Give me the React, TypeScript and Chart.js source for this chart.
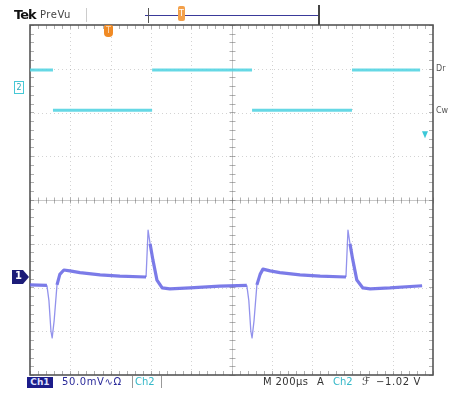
import React, { useEffect, useRef } from "react";
import { Chart, registerables } from "chart.js";

Chart.register(...registerables);

// Time axis in divisions (M 200µs/div), vertical in divisions
const ch1X = [0, 0.42, 0.47, 0.52, 0.55, 0.6, 0.67, 0.74, 0.84, 0.99, 1.24, 1.74, 2.23, 2.88, 2.93, 2.98, 3.05, 3.15, 3.28, 3.47, 3.97, 4.71, 5.38,
  5.43, 5.48, 5.51, 5.56, 5.63, 5.71, 5.78, 5.96, 6.2, 6.7, 7.2, 7.84, 7.89, 7.94, 8.01, 8.11, 8.26, 8.44, 8.93, 9.73];
const ch1Y = [-1.94, -1.95, -2.3, -3.0, -3.15, -2.75, -1.94, -1.7, -1.6, -1.62, -1.66, -1.71, -1.74, -1.76, -0.69, -1.0, -1.37, -1.83, -2.01, -2.03, -2.01, -1.97, -1.95,
  -2.3, -3.0, -3.15, -2.75, -1.94, -1.7, -1.58, -1.62, -1.66, -1.71, -1.74, -1.76, -0.69, -1.0, -1.37, -1.83, -2.01, -2.03, -2.01, -1.96];

const ch2Start = [0.0, 0.57, 3.03, 5.51, 7.99];
const ch2End = [0.57, 3.03, 5.51, 7.99, 9.68];
const ch2Level = [2.97, 2.05, 2.97, 2.05, 2.97];

const xDivs = 10;
const yDivs = 8;

const graticule = {
  id: "graticule",
  beforeDatasetsDraw(chart: any) {
    const { ctx, chartArea } = chart;
    const { left, right, top, bottom } = chartArea;
    const xs = chart.scales.x;
    const ys = chart.scales.y;
    ctx.save();
    ctx.strokeStyle = "rgba(110,110,110,0.3)";
    ctx.lineWidth = 1;
    ctx.setLineDash([1, 3]);
    for (let i = 1; i < xDivs; i++) {
      if (i === xDivs / 2) continue;
      const px = Math.round(xs.getPixelForValue(i)) + 0.5;
      ctx.beginPath(); ctx.moveTo(px, top); ctx.lineTo(px, bottom); ctx.stroke();
    }
    for (let j = -yDivs / 2 + 1; j < yDivs / 2; j++) {
      if (j === 0) continue;
      const py = Math.round(ys.getPixelForValue(j)) + 0.5;
      ctx.beginPath(); ctx.moveTo(left, py); ctx.lineTo(right, py); ctx.stroke();
    }
    ctx.setLineDash([]);
    const cx = Math.round(xs.getPixelForValue(xDivs / 2)) + 0.5;
    const cy = Math.round(ys.getPixelForValue(0)) + 0.5;
    ctx.strokeStyle = "rgba(120,120,120,0.4)";
    ctx.beginPath(); ctx.moveTo(cx, top); ctx.lineTo(cx, bottom); ctx.stroke();
    ctx.beginPath(); ctx.moveTo(left, cy); ctx.lineTo(right, cy); ctx.stroke();
    ctx.strokeStyle = "rgba(100,100,100,0.5)";
    for (let v = 0; v <= xDivs + 0.001; v += 0.2) {
      const px = Math.round(xs.getPixelForValue(v)) + 0.5;
      ctx.beginPath(); ctx.moveTo(px, cy - 3); ctx.lineTo(px, cy + 3); ctx.stroke();
      ctx.beginPath(); ctx.moveTo(px, top); ctx.lineTo(px, top + 4); ctx.stroke();
      ctx.beginPath(); ctx.moveTo(px, bottom); ctx.lineTo(px, bottom - 4); ctx.stroke();
    }
    for (let v = -yDivs / 2; v <= yDivs / 2 + 0.001; v += 0.2) {
      const py = Math.round(ys.getPixelForValue(v)) + 0.5;
      ctx.beginPath(); ctx.moveTo(cx - 3, py); ctx.lineTo(cx + 3, py); ctx.stroke();
      ctx.beginPath(); ctx.moveTo(left, py); ctx.lineTo(left + 4, py); ctx.stroke();
      ctx.beginPath(); ctx.moveTo(right, py); ctx.lineTo(right - 4, py); ctx.stroke();
    }
    ctx.strokeStyle = "rgb(85,85,85)";
    ctx.lineWidth = 1.6;
    ctx.strokeRect(left, top, right - left, bottom - top);
    ctx.restore();
  },
  afterDatasetsDraw(chart: any) {
    const { ctx, chartArea } = chart;
    const ys = chart.scales.y;
    ctx.save();
    const ty = ys.getPixelForValue(1.48);
    const tx = chartArea.right - 8;
    ctx.fillStyle = "#3cc8d8";
    ctx.beginPath();
    ctx.moveTo(tx - 3, ty - 4);
    ctx.lineTo(tx + 3, ty - 4);
    ctx.lineTo(tx, ty + 3);
    ctx.closePath();
    ctx.fill();
    const my = ys.getPixelForValue(-1.76);
    ctx.fillStyle = "#1c1c78";
    ctx.beginPath();
    ctx.moveTo(12, my - 7);
    ctx.lineTo(23, my - 7);
    ctx.lineTo(29, my);
    ctx.lineTo(23, my + 7);
    ctx.lineTo(12, my + 7);
    ctx.closePath();
    ctx.fill();
    ctx.restore();
  },
};

function buildCh1() {
  return ch1X.map((x, i) => ({ x, y: ch1Y[i] }));
}

function buildCh2() {
  const pts: any[] = [];
  ch2Start.forEach((s, i) => {
    pts.push({ x: s, y: ch2Level[i] });
    pts.push({ x: ch2End[i], y: ch2Level[i] });
    pts.push({ x: ch2End[i], y: null });
  });
  return pts;
}

const steep = (c: any) => {
  const dx = Math.abs(c.p1.x - c.p0.x);
  const dy = Math.abs(c.p1.y - c.p0.y);
  const lowest = Math.min(ch1Y[c.p0DataIndex], ch1Y[c.p1DataIndex]);
  return dy > 6.5 * dx || lowest < -2.2;
};

export default function App() {
  const ref = useRef<HTMLCanvasElement | null>(null);
  useEffect(() => {
    if (!ref.current) return;
    const chart = new Chart(ref.current, {
      type: "line",
      data: {
        datasets: [
          {
            label: "Ch2",
            data: buildCh2(),
            borderColor: "rgba(85,212,226,0.9)",
            borderWidth: 3,
            pointRadius: 0,
            spanGaps: false,
            tension: 0,
          },
          {
            label: "Ch1",
            data: buildCh1(),
            borderColor: "rgba(100,100,228,0.85)",
            borderWidth: 3.2,
            pointRadius: 0,
            tension: 0,
            borderJoinStyle: "round",
            segment: {
              borderWidth: (c: any) => (steep(c) ? 1.3 : 3.2),
              borderColor: (c: any) => (steep(c) ? "rgba(100,100,228,0.7)" : "rgba(100,100,228,0.85)"),
            },
          } as any,
        ],
      },
      options: {
        animation: false,
        responsive: true,
        maintainAspectRatio: false,
        layout: { padding: { left: 30, right: 18, top: 25, bottom: 24 } },
        scales: {
          x: { type: "linear", min: 0, max: xDivs, display: false },
          y: { type: "linear", min: -yDivs / 2, max: yDivs / 2, display: false },
        },
        plugins: { legend: { display: false }, tooltip: { enabled: false }, title: { display: false } },
      },
      plugins: [graticule],
    });
    return () => chart.destroy();
  }, []);

  const abs = (s: React.CSSProperties): React.CSSProperties => ({ position: "absolute", whiteSpace: "nowrap", ...s });
  const font = "'DejaVu Sans', sans-serif";

  return (
    <div style={{ position: "relative", width: 451, height: 399, background: "#fff", fontFamily: font }}>
      <style>{`body{margin:0}`}</style>
      <canvas ref={ref} width={451} height={399} />
      {/* header */}
      <span style={abs({ left: 14, top: 7, fontSize: 13, fontWeight: "bold", color: "#111", letterSpacing: -1 })}>Tek</span>
      <span style={abs({ left: 40, top: 9, fontSize: 10, color: "#444", letterSpacing: 0.5 })}>PreVu</span>
      <div style={abs({ left: 86, top: 8, width: 1, height: 14, background: "#ccc" })} />
      <div style={abs({ left: 145, top: 15, width: 173, height: 1, background: "#3a3a9a" })} />
      <div style={abs({ left: 148, top: 8, width: 1, height: 15, background: "#555" })} />
      <div style={abs({ left: 318, top: 5, width: 2, height: 20, background: "#444" })} />
      <div style={abs({ left: 178, top: 6, width: 7, height: 15, background: "#f3a04a", borderRadius: 2, color: "#fff", fontSize: 8, lineHeight: "15px", textAlign: "center" })}>T</div>
      <div style={abs({ left: 104, top: 25, width: 9, height: 12, background: "#f08a24", borderRadius: "2px 2px 4px 4px", color: "#fde0c0", fontSize: 8, lineHeight: "12px", textAlign: "center" })}>T</div>
      {/* channel markers */}
      <div style={abs({ left: 14, top: 81, width: 8, height: 11, border: "1px solid #46c8d6", color: "#2aa8b8", fontSize: 8, lineHeight: "11px", textAlign: "center" })}>2</div>
      <span style={abs({ left: 13, top: 269, width: 11, fontSize: 10, fontWeight: "bold", color: "#fff", textAlign: "center", lineHeight: "14px" })}>1</span>
      <span style={abs({ left: 436, top: 64, fontSize: 8, color: "#555" })}>Dr</span>
      <span style={abs({ left: 436, top: 106, fontSize: 8, color: "#555" })}>Cw</span>
      {/* footer */}
      <div style={abs({ left: 27, top: 377, width: 26, height: 11, background: "#1c1c8a", color: "#dfe0ff", fontSize: 9, lineHeight: "11px", textAlign: "center", fontWeight: "bold" })}>Ch1</div>
      <span style={abs({ left: 62, top: 376, fontSize: 10, color: "#2a2a9a", letterSpacing: 0.6 })}>50.0mV∿Ω</span>
      <div style={abs({ left: 132, top: 376, width: 28, height: 12, borderLeft: "1px solid #999", borderRight: "1px solid #999" })} />
      <span style={abs({ left: 135, top: 376, fontSize: 10, color: "#35b8c8" })}>Ch2</span>
      <span style={abs({ left: 263, top: 376, fontSize: 10, color: "#333", letterSpacing: 0.4 })}>M 200µs</span>
      <span style={abs({ left: 317, top: 376, fontSize: 10, color: "#333" })}>A</span>
      <span style={abs({ left: 333, top: 376, fontSize: 10, color: "#35b8c8" })}>Ch2</span>
      <span style={abs({ left: 362, top: 375, fontSize: 11, color: "#333" })}>ℱ</span>
      <span style={abs({ left: 376, top: 376, fontSize: 10, color: "#333", letterSpacing: 0.6 })}>−1.02 V</span>
    </div>
  );
}
